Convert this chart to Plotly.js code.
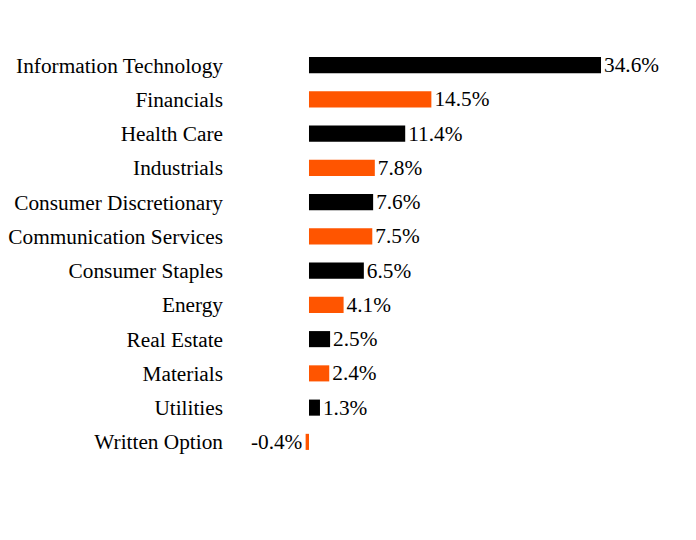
<!DOCTYPE html>
<html>
<head>
<meta charset="utf-8">
<script src="https://cdn.plot.ly/plotly-3.0.1.min.js"></script>
<style>html,body{margin:0;padding:0;background:#fff}</style>
</head>
<body>
<div id="chart" style="width:696px;height:540px"></div>
<script>
const categories = ["Information Technology","Financials","Health Care","Industrials","Consumer Discretionary","Communication Services","Consumer Staples","Energy","Real Estate","Materials","Utilities","Written Option"];
const values = [34.6,14.5,11.4,7.8,7.6,7.5,6.5,4.1,2.5,2.4,1.3,-0.4];
const palette = ["#000000","#FF5500"];
const colors = categories.map((c,i)=>palette[i%2]);
const labels = values.map(v=>v.toFixed(1)+"%");
const FONT = "Liberation Serif";
const FS = 21.3;

const trace = {
  type:"bar", orientation:"h",
  x: values, y: categories,
  marker:{color:colors, line:{width:0}},
  text: labels, texttemplate:"%{text}", textposition:"outside",
  constraintext:"none",
  textfont:{family:FONT, size:FS, color:"#000"},
  outsidetextfont:{family:FONT, size:FS, color:"#000"},
  cliponaxis:false, hoverinfo:"none"
};
const layout = {
  width:696, height:540,
  margin:{l:230, r:16, t:48, b:81},
  paper_bgcolor:"#fff", plot_bgcolor:"#fff",
  showlegend:false,
  bargap:0.53,
  font:{family:FONT, size:FS, color:"#000"},
  xaxis:{range:[-9.36, 43.96], visible:false, showgrid:false, zeroline:false, fixedrange:true},
  yaxis:{range:[11.5,-0.5], showgrid:false, zeroline:false, showline:false, ticks:"", ticklabelstandoff:6,
         tickfont:{family:FONT, size:FS, color:"#000"}, fixedrange:true}
};
Plotly.newPlot("chart",[trace],layout,{displayModeBar:false,staticPlot:true});
</script>
</body>
</html>
